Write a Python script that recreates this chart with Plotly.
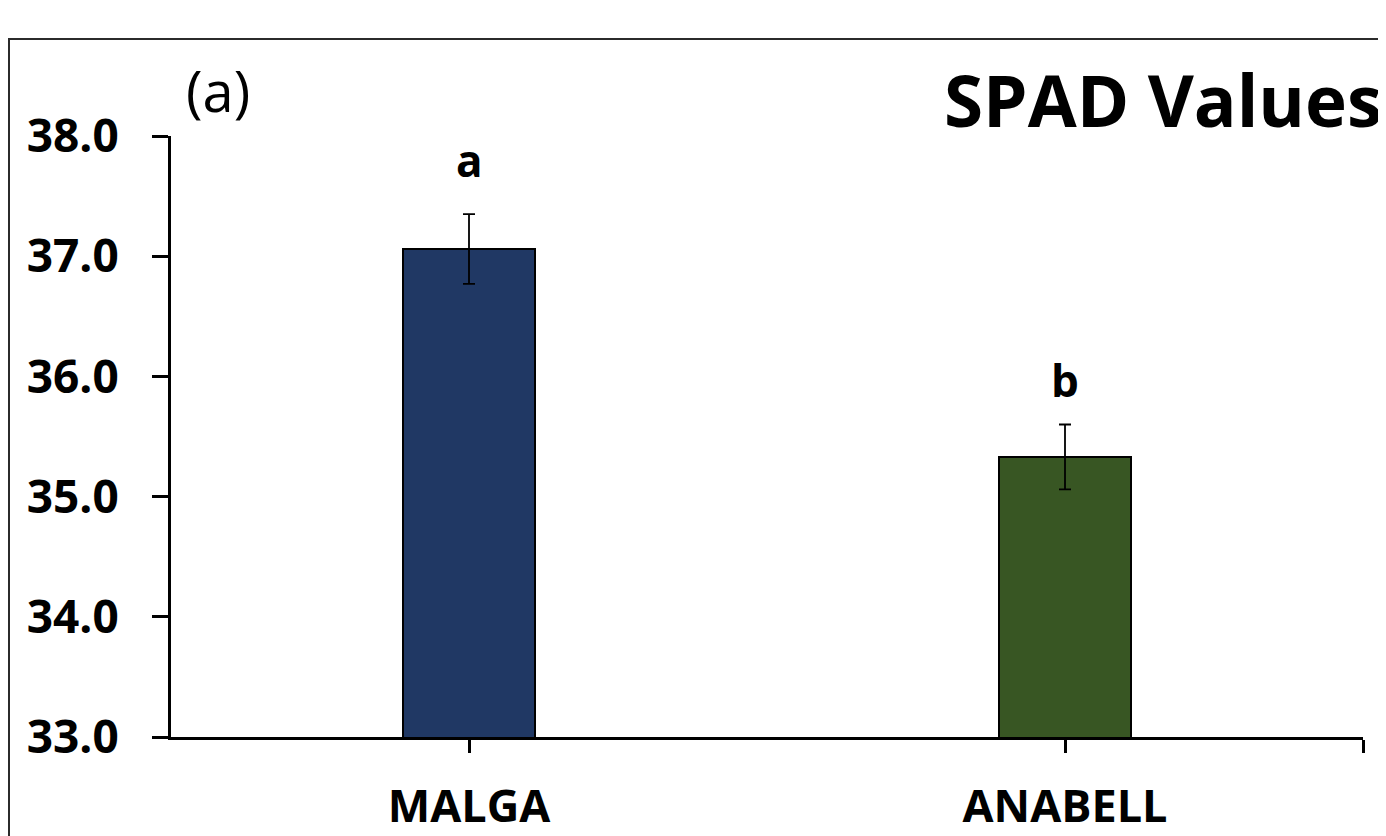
import plotly.graph_objects as go

categories = ["MALGA", "ANABELL"]
spad_values = [37.06, 35.33]
spad_errors = [0.29, 0.27]
letters = ["a", "b"]
letter_y = [37.80, 35.97]
bar_colors = ["#203864", "#385623"]
y_tick_vals = [33.0, 34.0, 35.0, 36.0, 37.0, 38.0]
y_tick_text = ["33.0", "34.0", "35.0", "36.0", "37.0", "38.0"]

FONT = "Open Sans"
OFF = 8  # page body margin
W, H = 1386 - OFF, 836 - OFF
L, R, T, B = 171 - OFF, 1363 - OFF, 136 - OFF, 737 - OFF

x_pos = list(range(len(categories)))

fig = go.Figure()
fig.add_trace(go.Bar(
    x=x_pos, y=spad_values,
    width=0.223,
    marker=dict(color=bar_colors, line=dict(color="black", width=2)),
    error_y=dict(type="data", array=spad_errors, visible=True,
                 color="black", thickness=1.8, width=6),
    showlegend=False,
))

for xi, lt, ly in zip(x_pos, letters, letter_y):
    fig.add_annotation(x=xi, y=ly, xref="x", yref="y", text=lt, showarrow=False,
                       font=dict(family=FONT, size=44, color="black", weight="bold"),
                       xanchor="center", yanchor="middle")

def px_x(px):
    return (px - OFF - L) / (R - L)

def px_y(py):
    return (B - (py - OFF)) / (B - T)

fig.add_annotation(x=px_x(1384), y=px_y(99), xref="paper", yref="paper",
                   text="SPAD Values", showarrow=False, xanchor="right", yanchor="middle",
                   font=dict(family=FONT, size=71, color="black", weight="bold"))
fig.add_annotation(x=px_x(184), y=px_y(90), xref="paper", yref="paper",
                   text="(a)", showarrow=False, xanchor="left", yanchor="middle",
                   font=dict(family=FONT, size=56, color="black"))

# outer frame
fig.add_shape(type="rect", xref="paper", yref="paper",
              x0=px_x(9), y0=px_y(900), x1=px_x(1450), y1=px_y(39),
              line=dict(color="#2b2b2b", width=2), fillcolor="rgba(0,0,0,0)", layer="below")

fig.update_layout(
    width=W, height=H,
    margin=dict(l=L, r=W - R, t=T, b=H - B, pad=0, autoexpand=False),
    paper_bgcolor="white", plot_bgcolor="white",
    bargap=0,
    xaxis=dict(range=[-0.5, 1.5], tickvals=[0, 1, 1.5], ticktext=categories + [""],
               showline=True, linecolor="black", linewidth=3, automargin=False,
               ticks="outside", ticklen=13, tickwidth=3, tickcolor="black",
               showgrid=False, zeroline=False, ticklabelstandoff=15,
               tickfont=dict(family=FONT, size=45, color="black", weight="bold")),
    yaxis=dict(range=[33, 38], tickvals=y_tick_vals, ticktext=y_tick_text,
               showline=True, linecolor="black", linewidth=3, automargin=False,
               ticks="outside", ticklen=16, tickwidth=3, tickcolor="black",
               showgrid=False, zeroline=False, ticklabelstandoff=24,
               tickfont=dict(family=FONT, size=46, color="black", weight="bold")),
)

fig.write_html("out.html")
